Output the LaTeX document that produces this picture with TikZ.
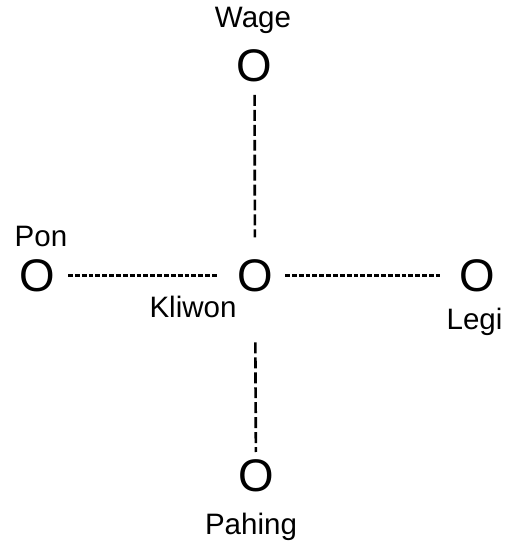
\documentclass[tikz,border=0pt]{standalone}
\usepackage{fontspec}
\setmainfont{Liberation Sans}
\usepackage{tikz}
\usetikzlibrary{positioning}

\begin{document}
\begin{tikzpicture}[
        every node/.style={align=center, inner sep=0pt},
        day/.style={font=\fontsize{26pt}{27pt}\selectfont},
        lbl/.style={font=\fontsize{16.8pt}{18pt}\selectfont, anchor=base},
        vlink/.style={line width=1.5pt, dash pattern=on 6.2pt off 2.3pt},
        hlink/.style={line width=1.3pt, dash pattern=on 2.8pt off 1.1pt}
    ]
    \useasboundingbox (0,0) rectangle (10.14,10.86);
    % the five days
    \node[day] (kliwon) at (5.10,5.35) {O};
    \node[day] (wage) at (5.09,9.55) {O};
    \node[day] (pon) at (0.74,5.35) {O};
    \node[day] (legi) at (9.54,5.35) {O};
    \node[day] (pahing) at (5.12,1.34) {O};
    % their names
    \node[lbl] (wagelbl) at (5.06,10.30) {Wage};
    \node[lbl] (ponlbl) at (0.82,5.92) {Pon};
    \node[lbl] (kliwonlbl) at (3.86,4.50) {Kliwon};
    \node[lbl] (legilbl) at (9.49,4.26) {Legi};
    \node[lbl] (pahinglbl) at (5.02,0.16) {Pahing};
    % links to the centre
    \draw[vlink, shorten <=0.59cm, shorten >=0.76cm] (wage.center) -- (kliwon.center);
    \draw[vlink, shorten <=1.34cm, shorten >=0.48cm] (kliwon.center) -- (pahing.center);
    \draw[hlink, shorten <=0.62cm, shorten >=0.74cm] (pon.center) -- (kliwon.center);
    \draw[hlink, shorten <=0.60cm, shorten >=0.74cm] (kliwon.center) -- (legi.center);
\end{tikzpicture}
\end{document}
